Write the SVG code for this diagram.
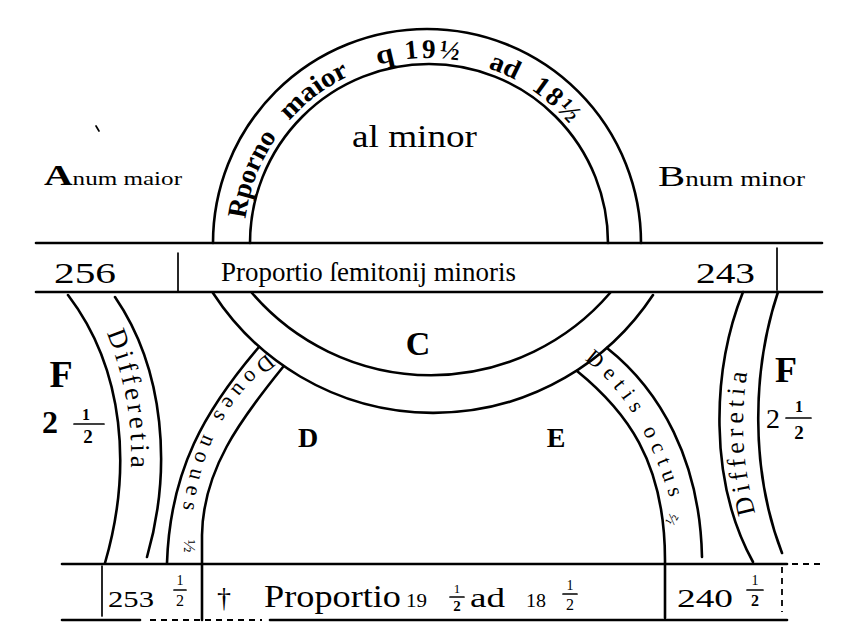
<svg xmlns="http://www.w3.org/2000/svg" width="845" height="639" viewBox="0 0 845 639" font-family="Liberation Serif, serif">
<style>
.ln{fill:none;stroke:#000;stroke-width:2.6;stroke-linecap:round}
.thin{fill:none;stroke:#000;stroke-width:1.7;stroke-linecap:round}
.dash{fill:none;stroke:#000;stroke-width:1.8;stroke-dasharray:6 5}
.t{font-family:"Liberation Serif",serif;fill:#000}
.b{font-weight:bold}
</style>
<defs>
<path id="pArc" d="M 244 242 A 184 184 0 0 1 612 242"/>
<path id="pDiffL" d="M 101 320 Q 146 420 124 520"/>
<path id="pDiffR" d="M 764 540 Q 728 440 754 340"/>
<path id="pD" d="M 272 350 Q 190 410 181 530"/>
<path id="pE" d="M 578 355 Q 645 400 676 520"/>
</defs>
<rect width="845" height="639" fill="#fff"/>

<g id="arch-top">
<path class="ln" d="M 213 243 A 214 214 0 0 1 641 243"/>
<path class="ln" d="M 250 243 A 179 179 0 0 1 608 243"/>
<text class="t b" font-size="27"><textPath href="#pArc" startOffset="23" textLength="89" lengthAdjust="spacingAndGlyphs">Rporno</textPath></text>
<text class="t b" font-size="27"><textPath href="#pArc" startOffset="132" textLength="76" lengthAdjust="spacingAndGlyphs">maior</textPath></text>
<text class="t b" font-size="27"><textPath href="#pArc" startOffset="238" textLength="18" lengthAdjust="spacingAndGlyphs">q</textPath></text>
<text class="t b" font-size="27"><textPath href="#pArc" startOffset="266" textLength="54" lengthAdjust="spacing">19½</textPath></text>
<text class="t b" font-size="27"><textPath href="#pArc" startOffset="350" textLength="30" lengthAdjust="spacingAndGlyphs">ad</textPath></text>
<text class="t b" font-size="27"><textPath href="#pArc" startOffset="398" textLength="52" lengthAdjust="spacing">18½</textPath></text>
<text class="t" x="352" y="147" font-size="32" textLength="125" lengthAdjust="spacingAndGlyphs">al minor</text>
</g>

<g id="label-left">
<text class="t" x="44" y="185" textLength="138" lengthAdjust="spacingAndGlyphs"><tspan font-size="30" font-weight="bold">A</tspan><tspan font-size="19">num maior</tspan></text>
<line class="thin" x1="96" y1="126" x2="99" y2="131"/>
</g>
<g id="label-right">
<text class="t" x="658" y="186" textLength="147" lengthAdjust="spacingAndGlyphs"><tspan font-size="30">B</tspan><tspan font-size="20">num minor</tspan></text>
</g>

<g id="bar-middle">
<line class="ln" x1="36" y1="243" x2="822" y2="243"/>
<line class="ln" x1="36" y1="292" x2="822" y2="292"/>
<line class="thin" x1="178" y1="253" x2="178" y2="292"/>
<line class="thin" x1="777" y1="248" x2="777" y2="290"/>
<text class="t" x="54" y="283" font-size="30" textLength="62" lengthAdjust="spacingAndGlyphs">256</text>
<text class="t" x="221" y="281" font-size="27" textLength="295" lengthAdjust="spacingAndGlyphs">Proportio ſemitonij minoris</text>
<text class="t" x="696" y="283" font-size="30" textLength="59" lengthAdjust="spacingAndGlyphs">243</text>
</g>

<g id="ring-lower">
<path class="ln" d="M 213 293 A 263 263 0 0 0 653 295"/>
<path class="ln" d="M 252 293 A 236 236 0 0 0 610 293"/>
<text class="t b" x="418" y="355" font-size="34" text-anchor="middle">C</text>
</g>

<g id="band-diff-left">
<path class="ln" d="M 68 295 C 125 370 132 470 105 563"/>
<path class="ln" d="M 115 297 C 165 370 172 470 147 557"/>
<text class="t" font-size="27"><textPath href="#pDiffL" startOffset="14" textLength="138" lengthAdjust="spacing">Differetia</textPath></text>
</g>

<g id="band-diff-right">
<path class="ln" d="M 743 292 C 712 370 708 480 753 562"/>
<path class="ln" d="M 778 292 C 752 370 750 470 782 553"/>
<text class="t" font-size="26"><textPath href="#pDiffR" startOffset="28" textLength="142" lengthAdjust="spacing">Differetia</textPath></text>
</g>

<g id="band-D">
<path class="ln" d="M 259 347 C 205 410 170 470 167 563"/>
<path class="ln" d="M 283 367 C 240 420 203 470 202 535 L 202 620"/>
<text class="t" font-size="22"><textPath href="#pD" startOffset="6" textLength="182" lengthAdjust="spacing">Doues noues</textPath></text>
<text class="t" font-size="17" transform="translate(184 546) rotate(90)" text-anchor="middle">½</text>
<text class="t b" x="308" y="447" font-size="28" text-anchor="middle">D</text>
</g>

<g id="band-E">
<path class="ln" d="M 577 371 C 625 410 665 460 665 560 L 665 618"/>
<path class="ln" d="M 607 348 C 660 390 700 460 702 557"/>
<text class="t" font-size="22"><textPath href="#pE" startOffset="8" textLength="165" lengthAdjust="spacing">Detis octus</textPath></text>
<text class="t" font-size="15" transform="translate(676 522) rotate(-60)" text-anchor="middle">½</text>
<text class="t b" x="556" y="447" font-size="28" text-anchor="middle">E</text>
</g>

<g id="label-F-left">
<text class="t b" x="61" y="387" font-size="38" text-anchor="middle">F</text>
<text class="t b" x="50" y="433" font-size="32" text-anchor="middle">2</text>
<text class="t b" x="86" y="420" font-size="16" text-anchor="middle">1</text>
<line class="thin" x1="74" y1="424" x2="104" y2="424"/>
<text class="t b" x="88" y="443" font-size="19" text-anchor="middle">2</text>
</g>
<g id="label-F-right">
<text class="t b" x="786" y="382" font-size="36" text-anchor="middle">F</text>
<text class="t" x="773" y="428" font-size="28" text-anchor="middle">2</text>
<text class="t b" x="799" y="412" font-size="16" text-anchor="middle">1</text>
<line class="thin" x1="786" y1="418" x2="811" y2="418"/>
<text class="t b" x="799" y="439" font-size="19" text-anchor="middle">2</text>
</g>

<g id="bar-bottom">
<line class="ln" x1="62" y1="564" x2="787" y2="564"/>
<line class="dash" x1="792" y1="564" x2="822" y2="564"/>
<line class="ln" x1="62" y1="620" x2="140" y2="620"/>
<line class="dash" x1="150" y1="620" x2="262" y2="620"/>
<line class="ln" x1="270" y1="620" x2="787" y2="620"/>
<line class="thin" x1="102" y1="566" x2="102" y2="616"/>
<line class="dash" x1="782" y1="567" x2="782" y2="612"/>
<text class="t" x="108" y="607" font-size="24" textLength="46" lengthAdjust="spacingAndGlyphs">253</text>
<text class="t" x="180" y="585" font-size="14" text-anchor="middle">1</text>
<line class="thin" x1="174" y1="590" x2="186" y2="590"/>
<text class="t" x="180" y="606" font-size="16" text-anchor="middle">2</text>
<text class="t" x="224" y="607" font-size="28" text-anchor="middle">†</text>
<text class="t" x="264" y="607" font-size="32" textLength="137" lengthAdjust="spacingAndGlyphs">Proportio</text>
<text class="t" x="406" y="607" font-size="18" textLength="21" lengthAdjust="spacingAndGlyphs">19</text>
<text class="t" x="457" y="593" font-size="13" text-anchor="middle">1</text>
<line class="thin" x1="450" y1="597" x2="464" y2="597"/>
<text class="t b" x="457" y="611" font-size="15" text-anchor="middle">2</text>
<text class="t" x="470" y="607" font-size="28" textLength="35" lengthAdjust="spacingAndGlyphs">ad</text>
<text class="t" x="526" y="607" font-size="18" textLength="20" lengthAdjust="spacingAndGlyphs">18</text>
<text class="t" x="570" y="590" font-size="14" text-anchor="middle">1</text>
<line class="thin" x1="563" y1="594" x2="577" y2="594"/>
<text class="t" x="570" y="610" font-size="16" text-anchor="middle">2</text>
<text class="t" x="677" y="607" font-size="26" textLength="56" lengthAdjust="spacingAndGlyphs">240</text>
<text class="t" x="755" y="585" font-size="14" text-anchor="middle">1</text>
<line class="thin" x1="747" y1="590" x2="763" y2="590"/>
<text class="t b" x="755" y="606" font-size="16" text-anchor="middle">2</text>
</g>
<g id="connectors"></g>
</svg>
